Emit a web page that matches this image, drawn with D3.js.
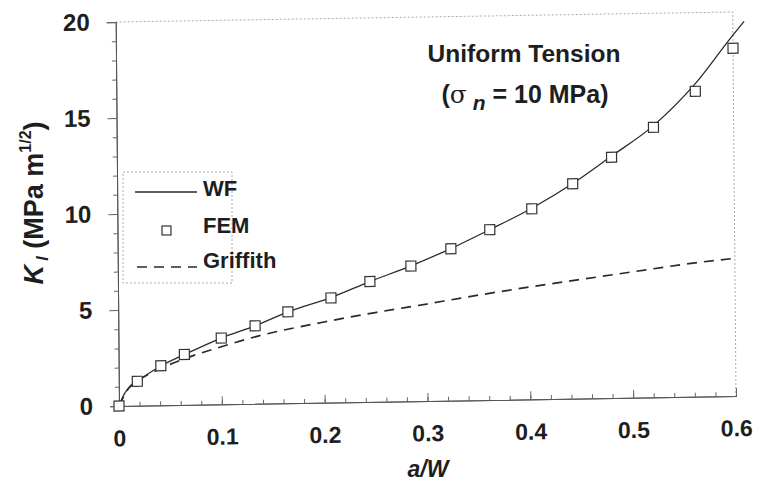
<!DOCTYPE html>
<html>
<head>
<meta charset="utf-8">
<script src="https://cdn.jsdelivr.net/npm/d3@7"></script>
<style>
  body { margin: 0; background: #fff; }
  text { font-family: "Liberation Sans", Arial, sans-serif; font-weight: bold; fill: #1e1e1e; }
</style>
</head>
<body>
<div class="canvas"></div>
<script>
// WF (weight function) curve
const wfA = [0, 0.005, 0.018, 0.041, 0.064, 0.1, 0.133, 0.165, 0.207, 0.245, 0.285, 0.324, 0.362, 0.403, 0.443, 0.481, 0.522, 0.563, 0.6, 0.611];
const wfK = [0, 0.6, 1.25, 2.05, 2.62, 3.45, 4.06, 4.76, 5.47, 6.27, 7.05, 7.92, 8.87, 9.95, 11.2, 12.6, 14.15, 16.3, 18.8, 19.5];

// FEM points
const femA = [0, 0.018, 0.041, 0.064, 0.1, 0.133, 0.165, 0.207, 0.245, 0.285, 0.324, 0.362, 0.403, 0.443, 0.481, 0.522, 0.563, 0.6];
const femK = [0, 1.27, 2.06, 2.63, 3.45, 4.06, 4.76, 5.45, 6.27, 7.04, 7.91, 8.87, 9.92, 11.19, 12.54, 14.06, 15.9, 18.11];

// Griffith curve
const grA = [0, 0.01, 0.02, 0.04, 0.06, 0.1, 0.134, 0.2, 0.25, 0.3, 0.332, 0.4, 0.45, 0.5, 0.565, 0.6];
const grK = [0, 0.95, 1.35, 1.9, 2.33, 3.0, 3.5, 4.2, 4.65, 5.05, 5.32, 5.85, 6.2, 6.55, 6.99, 7.17];

const xTickVals = [0, 0.1, 0.2, 0.3, 0.4, 0.5, 0.6];
const xTickLabels = ['0', '0.1', '0.2', '0.3', '0.4', '0.5', '0.6'];
const yTickVals = [0, 5, 10, 15, 20];
const yTickLabels = ['0', '5', '10', '15', '20'];

const plot = { left: 119, right: 736, top: 22, bottom: 406 };

const svg = d3.select('.canvas')
    .append('svg')
    .attr('width', 762)
    .attr('height', 488);

const x = d3.scaleLinear().domain([0, 0.6]).range([plot.left, plot.right]);
const y = d3.scaleLinear().domain([0, 20]).range([plot.bottom, plot.top]);

// the original is a slightly skewed scan
const graph = svg.append('g')
    .attr('transform', `translate(${plot.left},${plot.bottom}) matrix(1,-0.0162,0.0086,1,0,0) translate(${-plot.left},${-plot.bottom})`);

// dotted frame top/right
graph.append('path')
    .attr('d', `M${plot.left},${plot.top}H${plot.right}V${plot.bottom}`)
    .attr('fill', 'none')
    .attr('stroke', '#aaa')
    .attr('stroke-dasharray', '2,2');

// x axis: inward ticks
graph.append('g')
    .attr('transform', `translate(0,${plot.bottom})`)
    .call(d3.axisTop(x).tickValues(d3.range(0, 0.6001, 0.02)).tickSize(4).tickFormat(''));
graph.append('g')
    .attr('transform', `translate(0,${plot.bottom})`)
    .call(d3.axisTop(x).tickValues(xTickVals).tickSize(8).tickFormat(''));
const xLabels = graph.append('g')
    .attr('transform', `translate(0,${plot.bottom})`)
    .call(d3.axisBottom(x).tickValues(xTickVals).tickSize(0).tickPadding(24)
        .tickFormat((d, i) => xTickLabels[i]));
xLabels.select('.domain').remove();
xLabels.selectAll('text').style('font-size', '23px').attr('fill', '#1e1e1e');

// y axis: outward ticks
graph.append('g')
    .attr('transform', `translate(${plot.left},0)`)
    .call(d3.axisLeft(y).tickValues(d3.range(0, 20.01, 1)).tickSize(4).tickFormat(''));
const yMajor = graph.append('g')
    .attr('transform', `translate(${plot.left},0)`)
    .call(d3.axisLeft(y).tickValues(yTickVals).tickSize(9).tickPadding(17)
        .tickFormat((d, i) => yTickLabels[i]));
yMajor.selectAll('text').style('font-size', '24px').attr('fill', '#1e1e1e');

graph.selectAll('.domain').attr('stroke', '#555');
graph.selectAll('.tick line').attr('stroke', '#666');

// curves
const line = d3.line()
    .x(d => x(d[0]))
    .y(d => y(d[1]))
    .curve(d3.curveMonotoneX);

graph.append('path')
    .datum(grA.map((a, i) => [a, grK[i]]))
    .attr('d', line)
    .attr('fill', 'none')
    .attr('stroke', '#2a2a2a')
    .attr('stroke-width', 1.7)
    .attr('stroke-dasharray', '10,7');

graph.append('path')
    .datum(wfA.map((a, i) => [a, wfK[i]]))
    .attr('d', line)
    .attr('fill', 'none')
    .attr('stroke', '#2a2a2a')
    .attr('stroke-width', 1.3);

const sq = 10;
graph.selectAll('rect.fem')
    .data(femA.map((a, i) => [a, femK[i]]))
    .enter()
    .append('rect')
        .attr('class', 'fem')
        .attr('x', d => x(d[0]) - sq / 2)
        .attr('y', d => y(d[1]) - sq / 2)
        .attr('width', sq)
        .attr('height', sq)
        .attr('fill', '#fff')
        .attr('stroke', '#333')
        .attr('stroke-width', 1.2);

// legend
const legend = svg.append('g');
legend.append('rect')
    .attr('x', 123).attr('y', 172).attr('width', 109).attr('height', 111)
    .attr('fill', '#fff')
    .attr('stroke', '#aaa')
    .attr('stroke-dasharray', '2,2');
legend.append('line')
    .attr('x1', 135).attr('x2', 197).attr('y1', 192).attr('y2', 192)
    .attr('stroke', '#2a2a2a').attr('stroke-width', 1.3);
legend.append('rect')
    .attr('x', 162).attr('y', 226).attr('width', sq - 1).attr('height', sq - 1)
    .attr('fill', '#fff').attr('stroke', '#333').attr('stroke-width', 1.2);
legend.append('line')
    .attr('x1', 137).attr('x2', 197).attr('y1', 267).attr('y2', 267)
    .attr('stroke', '#2a2a2a').attr('stroke-width', 1.7)
    .attr('stroke-dasharray', '10,7');
legend.selectAll('text.lg')
    .data([['WF', 196], ['FEM', 233], ['Griffith', 268]])
    .enter()
    .append('text')
        .attr('x', 203)
        .attr('y', d => d[1])
        .style('font-size', '22px')
        .text(d => d[0]);

// title
svg.append('text')
    .attr('x', 524).attr('y', 62)
    .attr('text-anchor', 'middle')
    .style('font-size', '24.5px')
    .text('Uniform Tension');
const sub = svg.append('text')
    .attr('x', 525).attr('y', 103)
    .attr('text-anchor', 'middle')
    .style('font-size', '25px');
sub.append('tspan').text('(');
sub.append('tspan').style('font-family', '"DejaVu Serif", serif').style('font-weight', 'normal').text('σ');
sub.append('tspan').attr('dy', 7).style('font-style', 'italic').style('font-size', '21px').text(' n');
sub.append('tspan').attr('dy', -7).text(' = 10 MPa)');

// axis titles
svg.append('text')
    .attr('x', 428).attr('y', 477)
    .attr('text-anchor', 'middle')
    .style('font-size', '23px')
    .style('font-style', 'italic')
    .text('a/W');

const yl = svg.append('text')
    .attr('transform', 'translate(43,203) rotate(-90)')
    .attr('text-anchor', 'middle')
    .style('font-size', '27px');
yl.append('tspan').style('font-style', 'italic').text('K');
yl.append('tspan').attr('dy', 5).style('font-style', 'italic').style('font-size', '16px').text(' I');
yl.append('tspan').attr('dy', -5).text(' (MPa m');
yl.append('tspan').attr('dy', -12).style('font-size', '16px').text('1/2');
yl.append('tspan').attr('dy', 12).text(')');
</script>
</body>
</html>
